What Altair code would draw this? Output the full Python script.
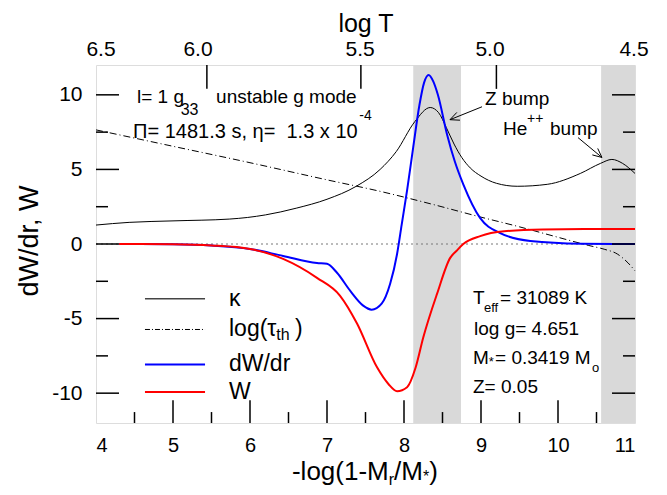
import altair as alt
import pandas as pd

FONT = "Liberation Sans"

# ---------------- data ----------------
kap_x = [4.0, 4.43, 5.0, 5.73, 6.2, 6.6, 7.0, 7.38, 7.69, 7.9, 8.14, 8.34, 8.45, 8.55,
         8.65, 8.75, 8.86, 9.0, 9.2, 9.47, 9.86, 10.29, 10.55, 10.7, 10.84, 11.0]
kap_y = [1.27, 1.45, 1.55, 1.67, 1.95, 2.4, 3.0, 3.87, 5.0, 6.2, 8.2, 9.15, 8.8, 7.8,
         6.7, 5.8, 5.1, 4.55, 4.07, 3.87, 4.0, 4.73, 5.4, 5.67, 5.4, 4.73]

tau_x = [4.0, 5.0, 6.0, 7.0, 7.69, 8.34, 9.0, 9.5, 10.0, 10.4, 10.6, 10.77, 10.91, 11.0]
tau_y = [7.65, 6.55, 5.45, 4.3, 3.53, 2.7, 1.8, 1.15, 0.45, -0.1, -0.35, -0.67, -1.27, -1.8]

dw_x = [4.3, 5.0, 5.5, 6.0, 6.43, 6.87, 7.0, 7.13, 7.3, 7.47, 7.58, 7.71, 7.82, 7.91,
        7.97, 8.04, 8.12, 8.2, 8.26, 8.32, 8.38, 8.44, 8.56, 8.66, 8.77, 8.99, 9.25,
        9.64, 10.3, 11.0]
dw_y = [0.0, -0.02, -0.1, -0.33, -0.8, -1.27, -1.33, -1.93, -3.13, -4.13, -4.4, -4.0,
        -2.67, -0.67, 1.3, 3.6, 6.5, 9.3, 10.8, 11.33, 10.9, 10.0, 7.33, 5.53, 4.0,
        1.73, 0.73, 0.2, 0.02, 0.0]

w_x = [4.3, 5.0, 5.5, 6.0, 6.43, 6.87, 7.17, 7.39, 7.65, 7.8, 7.91, 8.04, 8.15, 8.25,
       8.43, 8.6, 8.68, 8.77, 8.99, 9.3, 9.8, 10.5, 11.0]
w_y = [0.0, -0.02, -0.1, -0.33, -1.0, -2.27, -3.47, -5.33, -8.27, -9.4, -9.87, -9.6,
       -8.3, -6.27, -3.33, -0.93, -0.47, 0.0, 0.53, 0.85, 0.97, 1.0, 1.0]

band_start = [8.12, 10.56]
band_end = [8.74, 11.0]

x_ticks = [4, 5, 6, 7, 8, 9, 10, 11]
y_ticks = [-10, -5, 0, 5, 10]
x_minor = [4.5, 5.5, 6.5, 7.5, 8.5, 9.5, 10.5]
y_minor = [-7.5, -2.5, 2.5, 7.5]

top_labels = ["6.5", "6.0", "5.5", "5.0", "4.5"]
top_tick_pos = [4.0, 5.44, 7.44, 9.2, 11.0]
top_label_pos = [4.065, 5.325, 7.43, 9.117, 10.987]

# ---------------- scales & axes ----------------
XS = alt.Scale(domain=[4, 11], nice=False, zero=False)
YS = alt.Scale(domain=[-12, 12], nice=False, zero=False)
AX = alt.Axis(values=x_ticks, title=None, grid=False, domain=False, ticks=False,
              labelFont=FONT, labelFontSize=20, labelPadding=12, labelColor="black",
              labelExpr="'' + datum.value")
AY = alt.Axis(values=y_ticks, title=None, grid=False, domain=False, ticks=False,
              labelFont=FONT, labelFontSize=21, labelPadding=14, labelColor="black",
              labelExpr="'' + datum.value")


def X(f="x"):
    return alt.X(f + ":Q", scale=XS, axis=AX)


def Y(f="y"):
    return alt.Y(f + ":Q", scale=YS, axis=AY)


def xy(xs, ys):
    return pd.DataFrame({"x": xs, "y": ys})


def line(xs, ys, color, width, dash=None):
    kw = dict(color=color, strokeWidth=width, interpolate="monotone")
    if dash:
        kw["strokeDash"] = dash
    return alt.Chart(xy(xs, ys)).mark_line(**kw).encode(x=X(), y=Y())


def segs(x0, y0, x1, y1, color="black", width=1.5, dash=None):
    df = pd.DataFrame({"x": x0, "y": y0, "x2": x1, "y2": y1})
    kw = dict(color=color, strokeWidth=width)
    if dash:
        kw["strokeDash"] = dash
    return alt.Chart(df).mark_rule(**kw).encode(x=X(), y=Y(), x2="x2:Q", y2="y2:Q")


def texts(items, align="left", angle=0):
    df = pd.DataFrame(items, columns=["t", "x", "y", "fs"])
    return alt.Chart(df).mark_text(align=align, baseline="middle", font=FONT,
                                   color="black", angle=angle).encode(
        x=X(), y=Y(), text="t:N", size=alt.Size("fs:Q", scale=None, legend=None))


bands = alt.Chart(pd.DataFrame({"x": band_start, "x2": band_end,
                                "y": [-12, -12], "y2": [12, 12]})).mark_rect(
    color="#d9d9d9").encode(x=X(), x2="x2:Q", y=Y(), y2="y2:Q")

zero = segs([4], [0], [11], [0], color="#777777", width=1, dash=[2, 3])

kap = line(kap_x, kap_y, "black", 1)
tau = line(tau_x, tau_y, "black", 1, dash=[7, 3, 1, 3])
dw = line(dw_x, dw_y, "#0000ff", 2)
w = line(w_x, w_y, "#ff0000", 2)

# inward ticks
maj_x = 23 / 77
min_x = 12 / 77
maj_y = 23 / 15
min_y = 11 / 15
ticks = [
    segs([4] * 5, y_ticks, [4 + maj_x] * 5, y_ticks),
    segs([4] * 4, y_minor, [4 + min_x] * 4, y_minor),
    segs([11] * 5, y_ticks, [11 - maj_x] * 5, y_ticks),
    segs([11] * 4, y_minor, [11 - min_x] * 4, y_minor),
    segs(x_ticks[1:-1], [-12] * 6, x_ticks[1:-1], [-12 + maj_y] * 6),
    segs(x_minor, [-12] * 7, x_minor, [-12 + min_y] * 7),
    segs(top_tick_pos[1:-1], [12] * 3, top_tick_pos[1:-1], [12 - 24 / 15] * 3),
]

# arrows (Z bump, He++ bump)
arrows = segs(
    [9.013, 8.597, 8.597, 10.26, 10.571, 10.571],
    [9.2, 8.333, 8.333, 7.133, 5.8, 5.8],
    [8.597, 8.727, 8.686, 10.571, 10.516, 10.446],
    [8.333, 8.30, 8.82, 5.8, 6.407, 5.973],
    width=1)

# legend
lx0, lx1 = 4.636, 5.416
leg = [
    segs([lx0], [-3.67], [lx1], [-3.67], color="#444444", width=1.5),
    segs([lx0], [-5.73], [lx1], [-5.73], width=1, dash=[5, 2, 1, 2]),
    segs([lx0], [-8.07], [lx1], [-8.07], color="#0000ff", width=2),
    segs([lx0], [-9.93], [lx1], [-9.93], color="#ff0000", width=2),
]

ann = texts([
    ("l= 1 g", 4.532, 9.87, 19),
    ("33", 5.1, 8.95, 16),
    ("unstable g mode", 5.56, 9.87, 19),
    ("\u03a0= 1481.3 s, \u03b7=\u00a0\u00a01.3 x 10", 4.481, 7.53, 20),
    ("-4", 7.42, 8.6, 14),
    ("Z bump", 9.052, 9.72, 19),
    ("He", 9.286, 7.73, 19),
    ("++", 9.597, 8.4, 14),
    ("bump", 9.896, 7.73, 19),
    ("\u03ba", 5.727, -3.67, 23),
    ("log(\u03c4", 5.727, -5.73, 23),
    ("th", 6.34, -6.13, 16),
    (")", 6.585, -5.73, 23),
    ("dW/dr", 5.727, -8.07, 23),
    ("W", 5.727, -9.93, 23),
    ("T", 8.896, -3.6, 19),
    ("eff", 9.039, -4.27, 13),
    ("= 31089 K", 9.247, -3.6, 19),
    ("log g= 4.651", 8.909, -5.67, 19),
    ("M", 8.896, -7.67, 19),
    ("*", 9.101, -7.93, 13),
    ("= 0.3419 M", 9.182, -7.67, 19),
    ("o", 10.44, -8.33, 13),
    ("Z= 0.05", 8.896, -9.6, 19),
    ("-log(1-M", 6.545, -15.3, 26),
    ("r", 7.803, -15.8, 16),
    ("/M", 7.871, -15.3, 26),
    ("*", 8.247, -15.65, 16),
    (")", 8.327, -15.3, 26),
])

top = texts([(t, p, 13.03, 21) for t, p in zip(top_labels, top_label_pos)] +
            [("log T", 7.506, 14.75, 25)], align="center")

ytitle = texts([("dW/dr, W", 3.143, 0.2, 27)], align="center", angle=270)

chart = alt.layer(bands, zero, kap, tau, dw, w, *ticks, arrows, *leg, ann, top, ytitle
                  ).properties(
    width=539, height=358,
    autosize=alt.AutoSizeParams(type="none"),
    padding={"left": 88, "top": 57, "right": 24, "bottom": 64},
).configure_view(stroke="black", strokeWidth=1.5).configure(background="white")

chart.save("out.html", embed_options={"renderer": "svg", "actions": False})
